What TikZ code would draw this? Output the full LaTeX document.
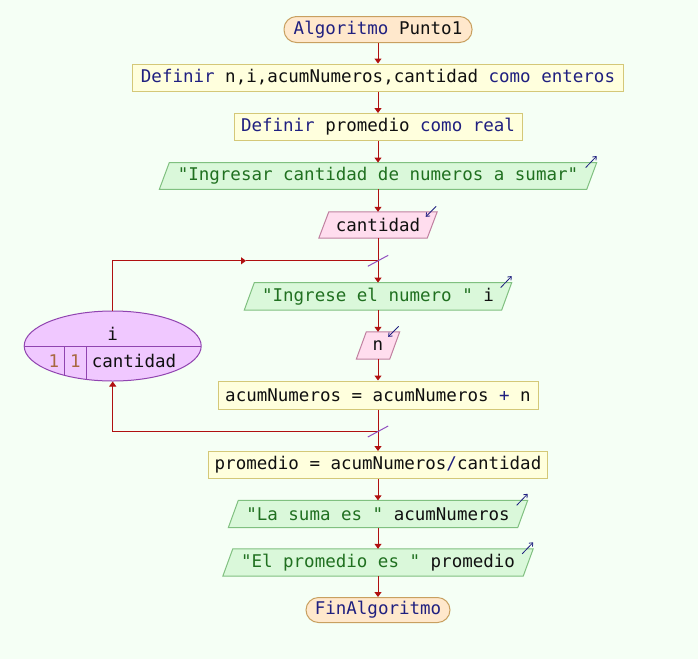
\documentclass[tikz,border=0pt]{standalone}
\usepackage{fontspec}
\setmonofont{DejaVu Sans Mono}
\usetikzlibrary{arrows.meta,shapes.geometric,calc}
\pgfdeclarelayer{bg}
\pgfdeclarelayer{shapes}
\pgfsetlayers{bg,shapes,main}
\definecolor{bgc}{HTML}{F5FFF5}
\definecolor{kw}{HTML}{202080}
\definecolor{str}{HTML}{207020}
\definecolor{var}{HTML}{101010}
\definecolor{num}{HTML}{A86840}
\definecolor{flowc}{HTML}{B01010}
\definecolor{procfill}{HTML}{FFFFDD}
\definecolor{procdraw}{HTML}{D4C878}
\definecolor{termfill}{HTML}{FFE8CC}
\definecolor{termdraw}{HTML}{C8A060}
\definecolor{outfill}{HTML}{DAF8DA}
\definecolor{outdraw}{HTML}{80C080}
\definecolor{infill}{HTML}{FFDDEE}
\definecolor{indraw}{HTML}{C080A0}
\definecolor{loopfill}{HTML}{F0C8FF}
\definecolor{loopdraw}{HTML}{9044B0}
\definecolor{slashc}{HTML}{9050C0}
\newcommand\K[1]{\textcolor{kw}{#1}}
\newcommand\Sx[1]{\textcolor{str}{#1}}
\newcommand\pgram[3]{% node, fill, draw
  \begin{pgfonlayer}{shapes}
  \filldraw[fill=#2,draw=#3,line width=1pt]
    ($(#1.south west)+(-5,0)$) -- ($(#1.north west)+(5,0)$) --
    ($(#1.north east)+(5,0)$) -- ($(#1.south east)+(-5,0)$) -- cycle;
  \end{pgfonlayer}}
\begin{document}
\begin{tikzpicture}[x=1pt,y=-1pt,
  every node/.style={font=\ttfamily\fontsize{17.5}{20}\selectfont,text=var,inner sep=0pt},
  proc/.style={draw=procdraw,fill=procfill,line width=1pt,minimum height=27pt},
  term/.style={draw=termdraw,fill=termfill,line width=1pt,minimum height=26pt,rounded corners=12.5pt},
  pnode/.style={minimum height=27pt},
  flow/.style={draw=flowc,line width=1pt,-{Triangle[length=5pt,width=7pt]}},
  fline/.style={draw=flowc,line width=1pt},
  outicon/.style={draw=kw,line width=0.8pt,-{Straight Barb[length=3pt,width=5pt]}},
  slash/.style={draw=slashc,line width=1pt}]
\begin{pgfonlayer}{bg}
\fill[bgc] (0,0) rectangle (698,659);
\end{pgfonlayer}
\useasboundingbox (0,0) rectangle (698,659);

% nodes
\node[term,minimum width=188pt] (start) at (378,29.5) {\K{Algoritmo} Punto1};
\node[proc,minimum width=491pt] (def1) at (378,77.5) {\K{Definir} n,i,acumNumeros,cantidad \K{como} \K{enteros}};
\node[proc,minimum width=288pt] (def2) at (378,127) {\K{Definir} promedio \K{como} \K{real}};
\node[pnode,minimum width=427pt,minimum height=26.5pt] (out1) at (378,176) {\Sx{"Ingresar cantidad de numeros a sumar"}};
\node[pnode,minimum width=108pt,minimum height=26pt] (in1) at (378,225) {cantidad};
\node[pnode,minimum width=257pt] (out2) at (378,296.3) {\Sx{"Ingrese el numero "} i};
\node[pnode,minimum width=33pt] (in2) at (378,345.5) {n};
\node[proc,minimum width=320pt,minimum height=28pt] (acum) at (378,395) {acumNumeros = acumNumeros \K{+} n};
\node[proc,minimum width=339pt] (prom) at (378,465) {promedio = acumNumeros\K{/}cantidad};
\node[pnode,minimum width=289pt] (out3) at (378,514) {\Sx{"La suma es "} acumNumeros};
\node[pnode,minimum width=300pt] (out4) at (378,562.5) {\Sx{"El promedio es "} promedio};
\node[term,minimum width=144pt,minimum height=25pt] (fin) at (378,610) {\K{FinAlgoritmo}};

\pgram{out1}{outfill}{outdraw}
\pgram{in1}{infill}{indraw}
\pgram{out2}{outfill}{outdraw}
\pgram{in2}{infill}{indraw}
\pgram{out3}{outfill}{outdraw}
\pgram{out4}{outfill}{outdraw}

% io icons
\draw[outicon] ($(out1.north east)+(-6,5)$) -- ($(out1.north east)+(5,-6.5)$);
\draw[outicon] ($(out2.north east)+(-6,5)$) -- ($(out2.north east)+(5,-6.5)$);
\draw[outicon] ($(out3.north east)+(-6,5)$) -- ($(out3.north east)+(5,-6.5)$);
\draw[outicon] ($(out4.north east)+(-6,5)$) -- ($(out4.north east)+(5,-6.5)$);
\draw[outicon] ($(in1.north east)+(4,-5.5)$) -- ($(in1.north east)+(-6.5,5)$);
\draw[outicon] ($(in2.north east)+(4,-5.5)$) -- ($(in2.north east)+(-6.5,5)$);

% loop node
\node[ellipse,draw=loopdraw,fill=loopfill,line width=1pt,minimum width=177pt,minimum height=70pt] (loop) at (112.7,346) {};
\begin{scope}
\clip (112.7,346) ellipse [x radius=88.2pt,y radius=34.5pt];
\draw[loopdraw,line width=1pt] (loop.west) -- (loop.east);
\draw[loopdraw,line width=1pt] (64.6,346) -- (64.6,390);
\draw[loopdraw,line width=1pt] (86,346) -- (86,390);
\end{scope}
\node (lvar) at (112.7,334) {i};
\node[text=num] (lini) at (54,361) {1};
\node[text=num] (lstep) at (75.5,361) {1};
\node (lend) at (134,361) {cantidad};

% junctions
\coordinate (jtop) at (378,260.8);
\coordinate (jbot) at (378,431.5);
\coordinate (amid) at (246,260.8);

% flow
\draw[flow] (start) -- (def1);
\draw[flow] (def1) -- (def2);
\draw[flow] (def2) -- (out1);
\draw[flow] (out1) -- (in1);
\draw[flow] (in1) -- (out2);
\draw[flow] (out2) -- (in2);
\draw[flow] (in2) -- (acum);
\draw[flow] (acum) -- (prom);
\draw[flow] (prom) -- (out3);
\draw[flow] (out3) -- (out4);
\draw[flow] (out4) -- (fin);
\draw[flow] (loop.north) |- (amid);
\draw[fline] (amid) -- (jtop);
\draw[flow] (jbot) -| (loop.south);

\draw[slash] ($(jtop)+(-10.2,5.5)$) -- ($(jtop)+(10.2,-5.5)$);
\draw[slash] ($(jbot)+(-10.2,5.5)$) -- ($(jbot)+(10.2,-5.5)$);
\end{tikzpicture}
\end{document}
